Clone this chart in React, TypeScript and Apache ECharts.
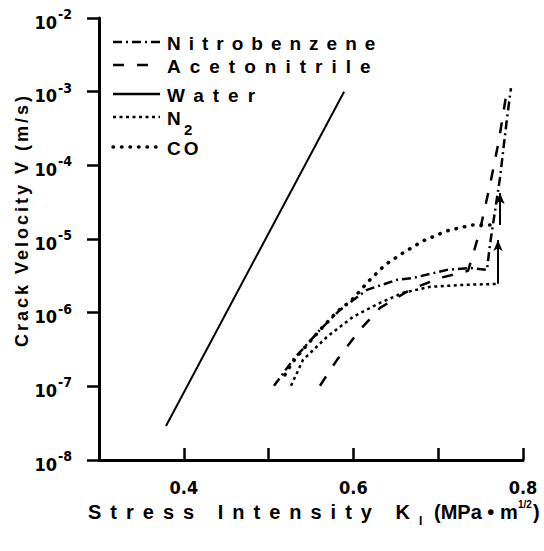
import React, { useEffect, useRef } from 'react';
import * as echarts from 'echarts';

// Stress intensity K_I (MPa·m^1/2) vs crack velocity V (m/s)
const water: [number, number][] = [
  [0.379, 2.9e-8],
  [0.589, 1.0e-3],
];

const nitrobenzene: [number, number][] = [
  [0.5064, 1.02e-7],
  [0.5288, 2.29e-7],
  [0.5606, 5.85e-7],
  [0.5842, 1.09e-6],
  [0.616, 2.04e-6],
  [0.6514, 2.79e-6],
  [0.6703, 2.96e-6],
  [0.7104, 3.81e-6],
  [0.7375, 4.05e-6],
  [0.7575, 3.81e-6],
  [0.7611, 8.5e-6],
  [0.767, 2.4e-5],
  [0.7729, 6.8e-5],
  [0.7811, 4.3e-4],
  [0.7858, 1.12e-3],
];

const acetonitrile: [number, number][] = [
  [0.5606, 1.02e-7],
  [0.5807, 2.29e-7],
  [0.6078, 5.85e-7],
  [0.6314, 1.16e-6],
  [0.6667, 2.04e-6],
  [0.7021, 2.96e-6],
  [0.7351, 3.69e-6],
  [0.741, 6.08e-6],
  [0.7493, 1.33e-5],
  [0.7611, 5.42e-5],
  [0.7717, 2.21e-4],
  [0.7811, 1.05e-3],
];

const n2: [number, number][] = [
  [0.5264, 1.02e-7],
  [0.5406, 2.29e-7],
  [0.5689, 4.7e-7],
  [0.5995, 8.77e-7],
  [0.6314, 1.36e-6],
  [0.6585, 1.86e-6],
  [0.6903, 2.24e-6],
  [0.7292, 2.38e-6],
  [0.7705, 2.46e-6],
];

const co: [number, number][] = [
  [0.5193, 1.43e-7],
  [0.5276, 2.08e-7],
  [0.5453, 3.66e-7],
  [0.563, 6.22e-7],
  [0.5807, 1.03e-6],
  [0.5983, 1.49e-6],
  [0.6172, 2.62e-6],
  [0.6373, 4.45e-6],
  [0.6585, 6.48e-6],
  [0.6821, 9.42e-6],
  [0.7104, 1.29e-5],
  [0.7399, 1.55e-5],
  [0.767, 1.55e-5],
];

// arrows (start -> end)
const n2Arrow: [number, number][] = [
  [0.7705, 2.46e-6],
  [0.7705, 9.7e-6],
];
const coArrow: [number, number][] = [
  [0.7729, 1.55e-5],
  [0.7729, 4.2e-5],
];

const xTickLabels = ['0.4', '0.6', '0.8'];

const legendNames = ['Nitrobenzene', 'Acetonitrile', 'Water', 'N', 'CO'];

const DASH_NITRO = [9, 4, 2, 4];
const DASH_ACETO = [11, 13];
const DASH_N2 = [3, 3.5];
const DASH_CO = [0.5, 8];

const SPACED_FONT = "'Liberation Sans', Arial, sans-serif";
const NARROW_FONT = "'Liberation Sans Narrow', 'DejaVu Sans Condensed', sans-serif";

const LETTER_SPACING: Record<string, number> = {
  Nitrobenzene: 8,
  Acetonitrile: 9,
  Water: 9,
  CO: 3,
  'Crack Velocity V (m/s)': 3,
  'Stress Intensity K': 9,
};

function lineSeries(name: string, data: [number, number][], width: number, dash: any, cap = 'butt', extra: any = {}) {
  return {
    type: 'line',
    name,
    data,
    symbol: 'none',
    silent: true,
    lineStyle: { color: '#000', width, type: dash, cap },
    ...extra,
  };
}

function arrowMark(seg: [number, number][]) {
  return {
    silent: true,
    symbol: ['none', 'arrow'],
    symbolSize: [7, 11],
    label: { show: false },
    lineStyle: { type: 'solid', color: '#000', width: 2 },
    data: [[{ coord: seg[0] }, { coord: seg[1] }]],
  };
}

const legendY = [42, 65, 94, 117, 147];
const legendDash: any[] = [DASH_NITRO, DASH_ACETO, null, DASH_N2, DASH_CO];

function buildGraphics() {
  const g: any[] = [];
  legendNames.forEach((n, i) => {
    const dash = legendDash[i];
    g.push({
      type: 'line',
      silent: true,
      shape: { x1: 113, y1: legendY[i], x2: 160, y2: legendY[i] },
      style: {
        stroke: '#000',
        lineWidth: i === 4 ? 3.5 : 2.5,
        lineDash: dash || undefined,
        lineCap: i === 4 ? 'round' : 'butt',
      },
    });
    g.push({
      type: 'text',
      silent: true,
      x: 167,
      y: legendY[i] + 1,
      style: {
        text: n,
        font: `bold 19px ${SPACED_FONT}`,
        fill: '#000',
        textVerticalAlign: 'middle',
        textAlign: 'left',
      },
    });
  });
  // subscript for N2
  g.push({
    type: 'text',
    silent: true,
    x: 184,
    y: 129,
    style: { text: '2', font: `bold 15px ${SPACED_FONT}`, fill: '#000', textVerticalAlign: 'middle' },
  });
  // y axis title
  g.push({
    type: 'text',
    silent: true,
    x: 22,
    y: 220,
    rotation: Math.PI / 2,
    style: {
      text: 'Crack Velocity V (m/s)',
      font: `bold 18px ${SPACED_FONT}`,
      fill: '#000',
      textAlign: 'center',
      textVerticalAlign: 'middle',
    },
  });
  // x axis title pieces
  g.push({
    type: 'text',
    silent: true,
    x: 88,
    y: 512,
    style: { text: 'Stress Intensity K', font: `bold 20px ${SPACED_FONT}`, fill: '#000', textVerticalAlign: 'middle' },
  });
  g.push({
    type: 'text',
    silent: true,
    x: 419,
    y: 521,
    style: { text: 'I', font: `bold 12px ${SPACED_FONT}`, fill: '#000', textVerticalAlign: 'middle' },
  });
  g.push({
    type: 'text',
    silent: true,
    x: 434,
    y: 512,
    style: { text: '(MPa • m', font: `bold 20px ${SPACED_FONT}`, fill: '#000', textVerticalAlign: 'middle' },
  });
  g.push({
    type: 'text',
    silent: true,
    x: 518,
    y: 504,
    style: { text: '1/2', font: `bold 10px ${SPACED_FONT}`, fill: '#000', textVerticalAlign: 'middle' },
  });
  g.push({
    type: 'text',
    silent: true,
    x: 533,
    y: 512,
    style: { text: ')', font: `bold 20px ${SPACED_FONT}`, fill: '#000', textVerticalAlign: 'middle' },
  });
  return g;
}

const option: any = {
  animation: false,
  backgroundColor: '#fff',
  grid: { left: 99, right: 21, top: 18, bottom: 91, containLabel: false },
  xAxis: {
    type: 'value',
    min: 0.3,
    max: 0.8,
    interval: 0.1,
    axisLine: { show: true, onZero: false, lineStyle: { color: '#000', width: 3 } },
    axisTick: { show: true, inside: true, length: 12, lineStyle: { color: '#000', width: 2.5, opacity: 1 } },
    splitLine: { show: false },
    axisLabel: {
      margin: 18,
      color: '#000',
      fontSize: 18,
      fontWeight: 'bold',
      fontFamily: NARROW_FONT,
      formatter: (v: number) => {
        const s = (Math.round(v * 10) / 10).toFixed(1);
        return xTickLabels.includes(s) ? s : '';
      },
    },
  },
  yAxis: {
    type: 'log',
    logBase: 10,
    min: 1e-8,
    max: 1e-2,
    axisLine: { show: true, lineStyle: { color: '#000', width: 3 } },
    axisTick: { show: true, inside: false, length: 12, lineStyle: { color: '#000', width: 2.5, opacity: 1 } },
    minorTick: { show: false },
    splitLine: { show: false },
    axisLabel: {
      margin: 27,
      color: '#000',
      formatter: (v: number) => `{b|10}{s|${Math.round(Math.log10(v))}}`,
      rich: {
        b: { fontSize: 18, fontWeight: 'bold', fontFamily: NARROW_FONT, color: '#000', padding: [8, 1, 0, 0] },
        s: { fontSize: 14, fontWeight: 'bold', fontFamily: NARROW_FONT, color: '#000', padding: [0, 0, 8, 0] },
      },
    },
  },
  series: [
    lineSeries('Water', water, 2, 'solid'),
    lineSeries('Nitrobenzene', nitrobenzene, 2.5, DASH_NITRO),
    lineSeries('Acetonitrile', acetonitrile, 2.5, DASH_ACETO),
    lineSeries('N2', n2, 2.5, DASH_N2, 'butt', { markLine: arrowMark(n2Arrow) }),
    lineSeries('CO', co, 3.5, DASH_CO, 'round', { markLine: arrowMark(coArrow) }),
  ],
  graphic: buildGraphics(),
};

export default function App() {
  const ref = useRef<HTMLDivElement>(null);
  useEffect(() => {
    const el = ref.current!;
    const chart = echarts.init(el, null, { renderer: 'svg' });
    chart.setOption(option);
    const apply = () => {
      el.querySelectorAll('text').forEach((t) => {
        const s = LETTER_SPACING[(t.textContent || '').trim()];
        if (s !== undefined) t.setAttribute('letter-spacing', String(s));
      });
    };
    chart.on('finished', apply);
    apply();
    const timers = [setTimeout(apply, 30), setTimeout(apply, 200)];
    return () => {
      timers.forEach(clearTimeout);
      chart.dispose();
    };
  }, []);
  return <div ref={ref} style={{ position: 'fixed', left: 0, top: 0, width: 544, height: 551, background: '#fff' }} />;
}
